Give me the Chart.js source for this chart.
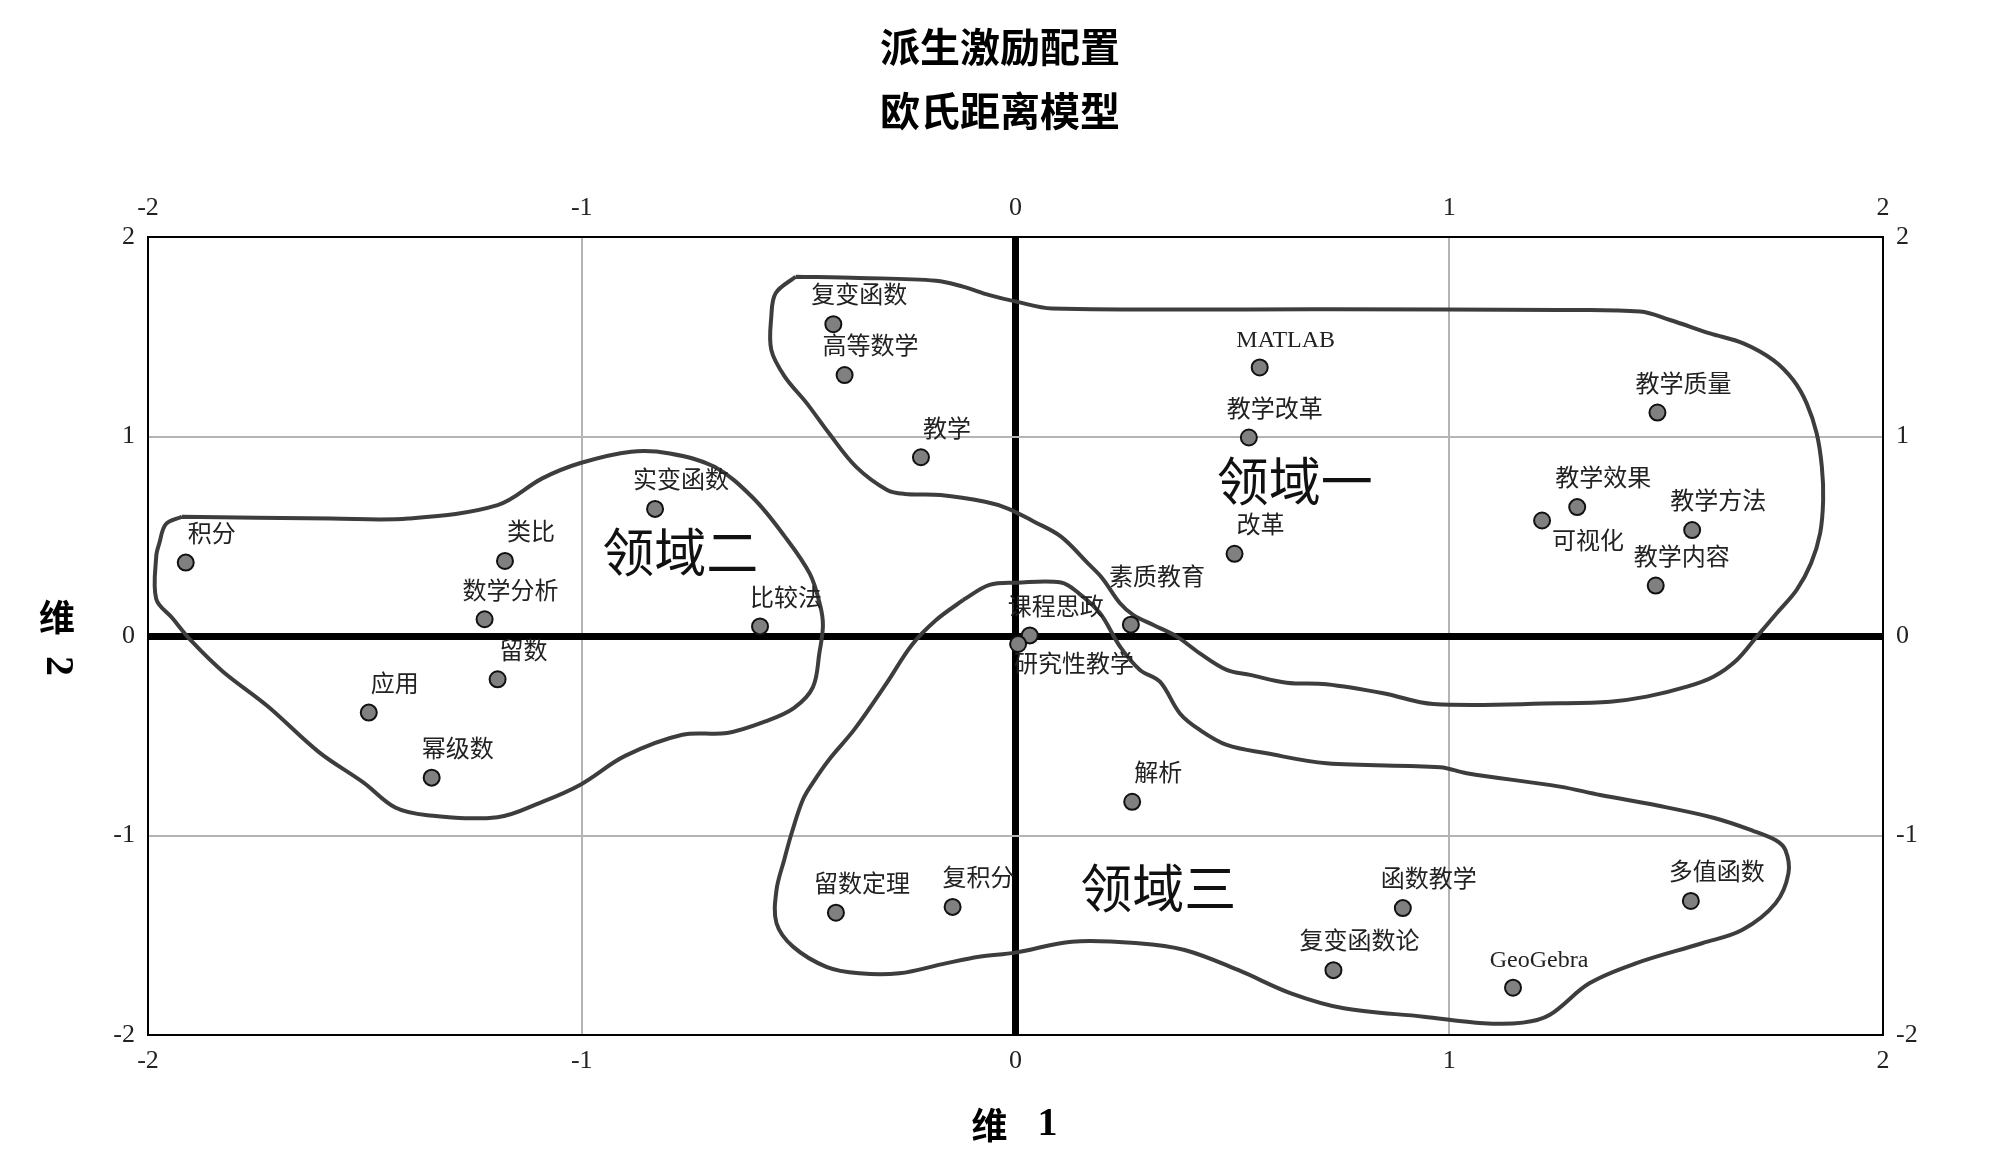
<!DOCTYPE html>
<html>
<head>
<meta charset="utf-8">
<title>派生激励配置 欧氏距离模型</title>
<script src="https://cdn.jsdelivr.net/npm/chart.js@4/dist/chart.umd.min.js"></script>
<style>
  html, body { margin: 0; padding: 0; background: #fff; }
  #wrap { width: 2000px; height: 1176px; position: relative; }
</style>
</head>
<body>
<div id="wrap"><canvas id="mds"></canvas></div>
<script>
// stimulus names and their coordinates on the two dimensions
const terms = [
    "复变函数", "高等数学", "教学", "实变函数", "积分", "类比", "数学分析", "比较法",
    "留数", "应用", "幂级数", "MATLAB", "教学改革", "改革", "素质教育", "课程思政",
    "研究性教学", "教学质量", "教学效果", "可视化", "教学方法", "教学内容", "解析",
    "留数定理", "复积分", "函数教学", "复变函数论", "GeoGebra", "多值函数"
];
const dim1 = [
    -0.420, -0.394, -0.218, -0.831, -1.913, -1.177, -1.224, -0.589,
    -1.194, -1.491, -1.346, 0.563, 0.538, 0.505, 0.266, 0.033,
    0.006, 1.480, 1.295, 1.214, 1.560, 1.476, 0.269,
    -0.414, -0.145, 0.893, 0.733, 1.147, 1.557
];
const dim2 = [
    1.563, 1.308, 0.896, 0.637, 0.368, 0.376, 0.084, 0.048,
    -0.217, -0.384, -0.710, 1.346, 0.995, 0.412, 0.057, 0.003,
    -0.040, 1.120, 0.646, 0.579, 0.531, 0.253, -0.831,
    -1.387, -1.358, -1.364, -1.675, -1.763, -1.328
];

// hand drawn region outlines, in dimension units
const outline1 = [
    [-0.507, 1.801], [-0.36, 1.795], [-0.183, 1.781], [-0.121, 1.751], [-0.060, 1.709],
    [0.002, 1.676], [0.084, 1.642], [0.729, 1.638], [1.255, 1.634], [1.440, 1.626],
    [1.509, 1.584], [1.601, 1.517], [1.678, 1.467], [1.747, 1.383], [1.793, 1.283],
    [1.824, 1.166], [1.847, 1.016], [1.859, 0.849], [1.862, 0.682], [1.855, 0.515],
    [1.834, 0.364], [1.801, 0.231], [1.755, 0.114], [1.709, -0.003], [1.663, -0.120],
    [1.609, -0.204], [1.548, -0.254], [1.455, -0.304], [1.371, -0.329], [1.255, -0.337],
    [0.963, -0.341], [0.848, -0.287], [0.717, -0.242], [0.625, -0.234], [0.541, -0.195],
    [0.487, -0.170], [0.425, -0.087], [0.372, -0.003], [0.318, 0.055], [0.272, 0.105],
    [0.241, 0.164], [0.200, 0.290], [0.167, 0.364], [0.105, 0.498], [0.043, 0.573],
    [-0.019, 0.640], [-0.070, 0.673], [-0.173, 0.707], [-0.255, 0.712], [-0.296, 0.732],
    [-0.368, 0.849], [-0.430, 1.016], [-0.481, 1.166], [-0.532, 1.300], [-0.563, 1.434],
    [-0.563, 1.601], [-0.553, 1.718], [-0.507, 1.801]
];
const outline2 = [
    [-1.922, 0.598], [-1.577, 0.589], [-1.400, 0.589], [-1.194, 0.656], [-1.091, 0.790],
    [-1.003, 0.867], [-0.886, 0.924], [-0.797, 0.915], [-0.694, 0.848], [-0.606, 0.694],
    [-0.533, 0.502], [-0.474, 0.311], [-0.450, 0.150], [-0.444, 0.050], [-0.452, -0.083],
    [-0.467, -0.256], [-0.511, -0.361], [-0.577, -0.428], [-0.665, -0.486], [-0.768, -0.495],
    [-0.900, -0.601], [-1.003, -0.745], [-1.091, -0.831], [-1.194, -0.908], [-1.356, -0.898],
    [-1.430, -0.860], [-1.503, -0.735], [-1.606, -0.582], [-1.724, -0.352], [-1.827, -0.179],
    [-1.900, -0.025], [-1.944, 0.090], [-1.981, 0.186], [-1.981, 0.400], [-1.974, 0.464],
    [-1.959, 0.560], [-1.922, 0.598]
];
const outline3 = [
    [-0.121, 0.180], [-0.060, 0.256], [0.002, 0.267], [0.105, 0.268], [0.146, 0.214],
    [0.195, 0.114], [0.241, -0.053], [0.287, -0.170], [0.333, -0.229], [0.379, -0.388],
    [0.425, -0.471], [0.487, -0.546], [0.579, -0.588], [0.717, -0.638], [0.979, -0.658],
    [1.040, -0.688], [1.255, -0.755], [1.348, -0.797], [1.480, -0.850], [1.611, -0.912],
    [1.699, -0.975], [1.752, -1.023], [1.775, -1.073], [1.782, -1.190], [1.752, -1.341],
    [1.675, -1.474], [1.583, -1.540], [1.430, -1.641], [1.323, -1.741], [1.231, -1.900],
    [1.170, -1.938], [1.079, -1.941], [0.941, -1.908], [0.757, -1.866], [0.635, -1.791],
    [0.513, -1.674], [0.390, -1.574], [0.283, -1.540], [0.130, -1.532], [0.000, -1.587],
    [-0.084, -1.608], [-0.161, -1.641], [-0.268, -1.691], [-0.360, -1.691], [-0.436, -1.658],
    [-0.513, -1.557], [-0.551, -1.440], [-0.551, -1.273], [-0.533, -1.120], [-0.515, -0.980],
    [-0.490, -0.820], [-0.467, -0.735], [-0.430, -0.620], [-0.371, -0.467], [-0.297, -0.236],
    [-0.239, -0.045], [-0.183, 0.080], [-0.121, 0.180]
];

// region names and where they sit
const regionNames = ["领域一", "领域二", "领域三"];
const regionX = [0.644, -0.773, 0.329];
const regionY = [0.777, 0.421, -1.265];

// axis range
const axisMin = -2;
const axisMax = 2;

// label placement tweaks (pixels) for labels that are not above-right
const labelShift = {
    "可视化": { dx: 10, dy: 22, align: "left" },
    "研究性教学": { dx: -4, dy: 22, align: "left" },
    "素质教育": { dx: 26, dy: -46, align: "center" }
};

const serif = '"Liberation Serif", "Noto Sans CJK SC", serif';
const cjk = '"Noto Sans CJK SC", sans-serif';

const labelPlugin = {
    id: "mdsLabels",
    afterDatasetsDraw(chart) {
        const ctx = chart.ctx;
        const x = chart.scales.x;
        const y = chart.scales.y;
        const area = chart.chartArea;

        ctx.save();

        // point labels
        ctx.font = '24px ' + serif;
        ctx.fillStyle = "#222";
        ctx.textBaseline = "middle";
        terms.forEach((t, i) => {
            const px = x.getPixelForValue(dim1[i]);
            const py = y.getPixelForValue(dim2[i]);
            const s = labelShift[t] || { dx: 26, dy: -27, align: "center" };
            ctx.textAlign = s.align;
            ctx.fillText(t, px + s.dx, py + s.dy);
        });

        // region names
        ctx.font = '52px ' + cjk;
        ctx.fillStyle = "#111";
        ctx.textAlign = "center";
        regionNames.forEach((r, i) => {
            ctx.fillText(r, x.getPixelForValue(regionX[i]), y.getPixelForValue(regionY[i]));
        });

        // axis titles
        const midX = (area.left + area.right) / 2;
        const midY = (area.top + area.bottom) / 2;
        ctx.fillStyle = "#000";
        ctx.font = 'bold 36px ' + cjk;
        ctx.fillText("维", midX - 26, area.bottom + 90);
        ctx.fillText("维", area.left - 91, midY - 19);
        ctx.font = 'bold 40px ' + serif;
        ctx.fillText("1", midX + 32, area.bottom + 90);
        ctx.translate(area.left - 91, midY + 30);
        ctx.rotate(Math.PI / 2);
        ctx.fillText("2", 0, 0);

        ctx.restore();
    }
};

function gridColor(c) {
    if (!c.tick) return "#b4b4b4";
    return c.tick.value === 0 ? "#000" : "#b4b4b4";
}

function gridWidth(c) {
    if (!c.tick) return 2;
    return c.tick.value === 0 ? 7 : 2;
}

const tickFont = { family: serif, size: 26 };

function toPoints(list) {
    return list.map(p => ({ x: p[0], y: p[1] }));
}

const outlineStyle = {
    showLine: true,
    pointRadius: 0,
    borderColor: "#3d3d3d",
    borderWidth: 4,
    tension: 0.35,
    fill: false
};

new Chart(document.getElementById("mds"), {
    type: "scatter",
    data: {
        datasets: [
            {
                label: "stimuli",
                data: terms.map((t, i) => ({ x: dim1[i], y: dim2[i] })),
                pointRadius: 8,
                pointBackgroundColor: "#808080",
                pointBorderColor: "#111",
                pointBorderWidth: 2
            },
            Object.assign({ label: "outline1", data: toPoints(outline1) }, outlineStyle),
            Object.assign({ label: "outline2", data: toPoints(outline2) }, outlineStyle),
            Object.assign({ label: "outline3", data: toPoints(outline3) }, outlineStyle)
        ]
    },
    options: {
        responsive: true,
        maintainAspectRatio: false,
        devicePixelRatio: 1,
        animation: false,
        events: [],
        layout: { padding: 0 },
        plugins: {
            legend: { display: false },
            tooltip: { enabled: false },
            title: {
                display: true,
                text: "派生激励配置",
                color: "#000",
                font: { family: cjk, size: 40, weight: "bold" },
                padding: { top: 23, bottom: 0 }
            },
            subtitle: {
                display: true,
                text: "欧氏距离模型",
                color: "#000",
                font: { family: cjk, size: 40, weight: "bold" },
                padding: { top: 16, bottom: 0 }
            }
        },
        scales: {
            x: {
                type: "linear",
                position: "bottom",
                min: axisMin,
                max: axisMax,
                ticks: { stepSize: 1, font: tickFont, color: "#222", padding: 11 },
                grid: { color: gridColor, lineWidth: gridWidth, drawTicks: false },
                border: { color: "#000", width: 2 },
                afterFit(s) { s.height = 141; }
            },
            x2: {
                type: "linear",
                position: "top",
                display: true,
                min: axisMin,
                max: axisMax,
                ticks: { stepSize: 1, font: tickFont, color: "#222", padding: 13 },
                grid: { drawOnChartArea: false, drawTicks: false },
                border: { color: "#000", width: 2 },
                afterFit(s) { s.height = 102; }
            },
            y: {
                type: "linear",
                position: "left",
                min: axisMin,
                max: axisMax,
                ticks: { stepSize: 1, font: tickFont, color: "#222", padding: 13 },
                grid: { color: gridColor, lineWidth: gridWidth, drawTicks: false },
                border: { color: "#000", width: 2 },
                afterFit(s) { s.width = 148; }
            },
            y2: {
                type: "linear",
                position: "right",
                display: true,
                min: axisMin,
                max: axisMax,
                ticks: { stepSize: 1, font: tickFont, color: "#222", padding: 13 },
                grid: { drawOnChartArea: false, drawTicks: false },
                border: { color: "#000", width: 2 },
                afterFit(s) { s.width = 117; }
            }
        }
    },
    plugins: [labelPlugin]
});
</script>
</body>
</html>
